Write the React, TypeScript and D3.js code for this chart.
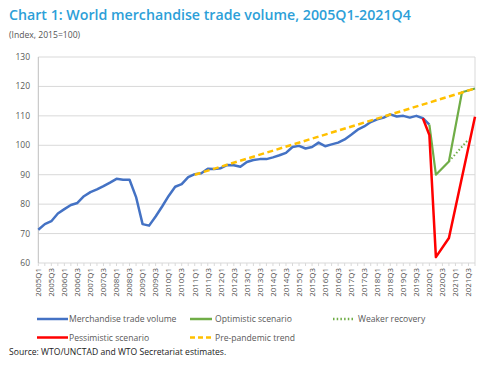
import React from "react";
import * as d3 from "d3";

const years = d3.range(2005, 2022);
const quarters: string[] = years.flatMap((y) => [1, 2, 3, 4].map((q) => `${y}Q${q}`));
const tickLabels = quarters.filter((_, i) => i % 2 === 0);
const yTicks = [60, 70, 80, 90, 100, 110, 120, 130];

const tradeVolume = [
  71.3, 73.2, 74.2, 76.8, 78.3, 79.7, 80.4, 82.7, 84.1, 85.0, 86.1, 87.3,
  88.6, 88.3, 88.3, 82.4, 73.2, 72.7, 75.8, 79.2, 82.8, 85.9, 86.8, 89.2,
  90.2, 90.5, 92.0, 91.9, 92.2, 93.3, 93.2, 92.7, 94.3, 95.0, 95.3, 95.3,
  95.9, 96.6, 97.4, 99.4, 99.8, 98.9, 99.4, 100.9, 99.7, 100.3, 100.9, 102.0,
  103.6, 105.3, 106.4, 107.9, 108.8, 109.4, 110.5, 109.8, 110.0, 109.4, 110.0, 109.2,
  107.0,
];

const optimisticQ = ["2020Q1", "2020Q2", "2020Q4", "2021Q2", "2021Q4"];
const optimisticV = [107, 90, 94.5, 118, 119.3];
const weakerQ = ["2020Q4", "2021Q3"];
const weakerV = [94.5, 102];
const pessimisticQ = ["2019Q4", "2020Q1", "2020Q2", "2020Q4", "2021Q4"];
const pessimisticV = [109.2, 103.5, 62, 68.5, 109.7];
const trendQ = ["2011Q1", "2021Q4"];
const trendV = [90, 119.3];

const W = 500, H = 378;
const L = 38.3, R = 475, T = 57, B = 263;
const FONT = "'Open Sans', 'DejaVu Sans', sans-serif";

export default function App() {
  const x = d3.scalePoint<string>().domain(quarters).range([L, R]);
  const y = d3.scaleLinear().domain([60, 130]).range([B, T]);
  const line = d3
    .line<[string, number]>()
    .x((d) => x(d[0]) as number)
    .y((d) => y(d[1]));

  const blue = line(tradeVolume.map((v, i) => [quarters[i], v]))!;
  const green = line(optimisticQ.map((q, i) => [q, optimisticV[i]]))!;
  const dotted = line(weakerQ.map((q, i) => [q, weakerV[i]]))!;
  const red = line(pessimisticQ.map((q, i) => [q, pessimisticV[i]]))!;
  const trend = line(trendQ.map((q, i) => [q, trendV[i]]))!;

  const legend = [
    { label: "Merchandise trade volume", color: "#4472c4", dash: "", x: 37, y: 322 },
    { label: "Optimistic scenario", color: "#70ad47", dash: "", x: 190, y: 322 },
    { label: "Weaker recovery", color: "#70ad47", dash: "1.5,2.2", x: 333, y: 322 },
    { label: "Pessimistic scenario", color: "#ff0000", dash: "", x: 37, y: 340.5 },
    { label: "Pre-pandemic trend", color: "#ffc000", dash: "5,3", x: 190, y: 340.5 },
  ];

  return (
    <svg width={W} height={H} style={{ position: "absolute", left: 0, top: 0, background: "#fff" }}>
      <text x={9} y={20} fontFamily={FONT} fontSize={14.2} fontWeight={600} fill="#2d9fd8">
        Chart 1: World merchandise trade volume, 2005Q1-2021Q4
      </text>
      <text x={9} y={38} fontFamily={FONT} fontSize={8.6} fill="#555">
        (Index, 2015=100)
      </text>

      {yTicks.map((t) => (
        <g key={t}>
          <line x1={L} x2={R} y1={y(t)} y2={y(t)} stroke="#d9d9d9" strokeWidth={1} />
          <text x={30} y={y(t) + 3} textAnchor="end" fontFamily={FONT} fontSize={8.5} fill="#595959">
            {t}
          </text>
        </g>
      ))}
      <line x1={L} x2={L} y1={T} y2={B} stroke="#bfbfbf" />
      <line x1={R} x2={R} y1={T} y2={B} stroke="#d9d9d9" />

      {quarters.map((q) => (
        <line key={q} x1={x(q)} x2={x(q)} y1={B} y2={B + 3} stroke="#d9d9d9" />
      ))}
      {tickLabels.map((q) => (
        <text
          key={q}
          transform={`translate(${(x(q) as number) + 2.8},${B + 5}) rotate(-90)`}
          textAnchor="end"
          fontFamily={FONT}
          fontSize={7.9}
          fill="#4d4d4d"
        >
          {q}
        </text>
      ))}

      <path d={blue} fill="none" stroke="#4472c4" strokeWidth={2.5} strokeLinejoin="round" />
      <path d={green} fill="none" stroke="#70ad47" strokeWidth={2.2} strokeLinejoin="round" />
      <path d={dotted} fill="none" stroke="#70ad47" strokeWidth={2} strokeDasharray="1.5,2.2" />
      <path d={red} fill="none" stroke="#ff0000" strokeWidth={2.5} strokeLinejoin="round" />
      <path d={trend} fill="none" stroke="#ffc000" strokeWidth={2.5} strokeDasharray="6,3.5" />

      {legend.map((l) => (
        <g key={l.label}>
          <line
            x1={l.x}
            x2={l.x + (l.x === 37 ? 31 : 22)}
            y1={l.y - 3}
            y2={l.y - 3}
            stroke={l.color}
            strokeWidth={2.5}
            strokeDasharray={l.dash}
          />
          <text x={l.x + (l.x === 37 ? 32 : 25)} y={l.y} fontFamily={FONT} fontSize={8.6} fill="#595959">
            {l.label}
          </text>
        </g>
      ))}

      <text x={9} y={355} fontFamily={FONT} fontSize={8.6} fill="#222">
        Source: WTO/UNCTAD and WTO Secretariat estimates.
      </text>
    </svg>
  );
}
